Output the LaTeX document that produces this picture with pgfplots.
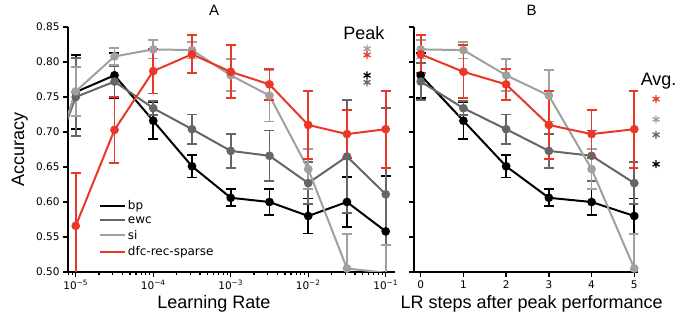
\documentclass[border=0pt]{standalone}
\usepackage{pgfplots}
\pgfplotsset{compat=1.18}
\usepackage{fontspec}
\setmainfont{DejaVu Sans}
\newfontfamily\arialfont{Liberation Sans}
\definecolor{cbp}{RGB}{0,0,0}
\definecolor{cewc}{RGB}{102,102,102}
\definecolor{csi}{RGB}{160,160,160}
\definecolor{cdfc}{RGB}{234,55,40}
\pgfplotsset{
  common/.style={
    scale only axis, height=245pt,
    ymin=0.5, ymax=0.85,
    ytick={0.5,0.55,0.6,0.65,0.7,0.75,0.8,0.85},
    axis x line*=bottom, axis y line*=left,
    axis line style={line width=2pt},
    tick align=outside,
    major tick length=5pt, minor tick length=3pt,
    every tick/.style={black, line width=1.3pt},
    tick label style={font=\fontsize{10.5}{12}\selectfont},
    /pgf/number format/assume math mode=true,
    yticklabel style={/pgf/number format/fixed, /pgf/number format/fixed zerofill, /pgf/number format/precision=2},
    legend image code/.code={\draw[#1] (0pt,0pt) -- (25pt,0pt);},
  },
  ser/.style={color=#1, line width=2pt, mark=*, mark size=3.3pt, mark options={solid},
    error bars/y dir=both, error bars/y explicit,
    error bars/error bar style={line width=1.8pt, color=#1},
    error bars/error mark options={line width=1.8pt, mark size=5pt, rotate=90, color=#1}},
  star/.style={only marks, mark=asterisk, mark size=4pt, mark options={line width=1.3pt, color=#1}},
}
\begin{document}
\begin{tikzpicture}
\path[use as bounding box] (0pt,0pt) rectangle (697pt,320pt);
\begin{semilogxaxis}[common, at={(68pt,48pt)}, anchor=south west, width=327pt,
  xmin=7.943e-6, xmax=0.1318,
  xtick={1e-5,1e-4,1e-3,1e-2,1e-1},
  xticklabels={10\textsuperscript{−5},10\textsuperscript{−4},10\textsuperscript{−3},10\textsuperscript{−2},10\textsuperscript{−1}},
  minor xtick={8e-6,9e-6,2e-5,3e-5,4e-5,5e-5,6e-5,7e-5,8e-5,9e-5,2e-4,3e-4,4e-4,5e-4,6e-4,7e-4,8e-4,9e-4,2e-3,3e-3,4e-3,5e-3,6e-3,7e-3,8e-3,9e-3,2e-2,3e-2,4e-2,5e-2,6e-2,7e-2,8e-2,9e-2},
  title={\arialfont\fontsize{15}{18}\selectfont A},
  title style={at={(axis description cs:0.4465,1.045)}, anchor=center},
  xlabel={\arialfont\fontsize{18}{21}\selectfont Learning Rate},
  xlabel style={at={(axis description cs:0.4465,-0.131)}, anchor=center},
  ylabel={\arialfont\fontsize{18}{21}\selectfont Accuracy},
  ylabel style={at={(axis description cs:-0.147,0.5)}, anchor=center, rotate=0},
  legend style={at={(axis description cs:0.085,0.31)}, anchor=north west, draw=none, fill=none,
    font=\fontsize{12}{14}\selectfont, row sep=1.5pt, legend cell align=left},
]
\addlegendimage{cbp, line width=2pt}\addlegendentry{bp}
\addlegendimage{cewc, line width=2pt}\addlegendentry{ewc}
\addlegendimage{csi, line width=2pt}\addlegendentry{si}
\addlegendimage{cdfc, line width=2pt}\addlegendentry{dfc-rec-sparse}
\addplot[forget plot, ser=cbp] coordinates {
 (3.1623e-6,0.59) +- (0,0)
 (1e-5,0.757) +- (0,0.053)
 (3.1623e-5,0.781) +- (0,0.032)
 (1e-4,0.716) +- (0,0.026)
 (3.1623e-4,0.651) +- (0,0.016)
 (1e-3,0.606) +- (0,0.012)
 (3.1623e-3,0.600) +- (0,0.019)
 (1e-2,0.580) +- (0,0.025)
 (3.1623e-2,0.600) +- (0,0.036)
 (1e-1,0.558) +- (0,0.079)
};
\addplot[forget plot, ser=cewc] coordinates {
 (3.1623e-6,0.60) +- (0,0)
 (1e-5,0.750) +- (0,0.056)
 (3.1623e-5,0.772) +- (0,0.022)
 (1e-4,0.734) +- (0,0.010)
 (3.1623e-4,0.704) +- (0,0.021)
 (1e-3,0.673) +- (0,0.024)
 (3.1623e-3,0.666) +- (0,0.036)
 (1e-2,0.627) +- (0,0.030)
 (3.1623e-2,0.665) +- (0,0.081)
 (1e-1,0.611) +- (0,0.123)
};
\addplot[forget plot, ser=csi] coordinates {
 (3.1623e-6,0.59) +- (0,0)
 (1e-5,0.758) +- (0,0.035)
 (3.1623e-5,0.808) +- (0,0.012)
 (1e-4,0.818) +- (0,0.013)
 (3.1623e-4,0.817) +- (0,0.012)
 (1e-3,0.781) +- (0,0.023)
 (3.1623e-3,0.752) +- (0,0.037)
 (1e-2,0.647) +- (0,0.029)
 (3.1623e-2,0.505) +- (0,0.049)
 (1e-1,0.499) +- (0,0.039)
};
\addplot[forget plot, ser=cdfc] coordinates {
 (1e-5,0.566) +- (0,0.075)
 (3.1623e-5,0.703) +- (0,0.047)
 (1e-4,0.787) +- (0,0.032)
 (3.1623e-4,0.811) +- (0,0.027)
 (1e-3,0.786) +- (0,0.038)
 (3.1623e-3,0.768) +- (0,0.022)
 (1e-2,0.710) +- (0,0.049)
 (3.1623e-2,0.697) +- (0,0.034)
 (1e-1,0.704) +- (0,0.055)
};
\addplot[forget plot, star=csi] coordinates {(0.0575,0.819)};
\addplot[forget plot, star=cdfc] coordinates {(0.0575,0.810)};
\addplot[forget plot, star=cbp] coordinates {(0.0575,0.781)};
\addplot[forget plot, star=cewc] coordinates {(0.0575,0.771)};
\node[anchor=base, font=\arialfont\fontsize{18}{21}\selectfont] at (axis cs:0.0521,0.832) {Peak};
\end{semilogxaxis}

\begin{axis}[common, at={(414pt,48pt)}, anchor=south west, width=224pt,
  xmin=-0.157, xmax=5.087,
  xtick={0,1,2,3,4,5}, yticklabels={},
  title={\arialfont\fontsize{15}{18}\selectfont B},
  title style={at={(axis description cs:0.525,1.045)}, anchor=center},
  xlabel={\arialfont\fontsize{18}{21}\selectfont LR steps after peak performance},
  xlabel style={at={(axis description cs:0.525,-0.131)}, anchor=center},
]
\addplot[ser=cbp] coordinates {
 (0,0.781) +- (0,0.032) (1,0.716) +- (0,0.026) (2,0.651) +- (0,0.016)
 (3,0.606) +- (0,0.012) (4,0.600) +- (0,0.019) (5,0.580) +- (0,0.025)
};
\addplot[ser=cewc] coordinates {
 (0,0.772) +- (0,0.026) (1,0.734) +- (0,0.010) (2,0.704) +- (0,0.021)
 (3,0.673) +- (0,0.024) (4,0.666) +- (0,0.036) (5,0.627) +- (0,0.030)
};
\addplot[ser=csi] coordinates {
 (0,0.818) +- (0,0.013) (1,0.817) +- (0,0.012) (2,0.781) +- (0,0.023)
 (3,0.752) +- (0,0.037) (4,0.647) +- (0,0.029) (5,0.505) +- (0,0.049)
};
\addplot[ser=cdfc] coordinates {
 (0,0.811) +- (0,0.027) (1,0.786) +- (0,0.038) (2,0.768) +- (0,0.022)
 (3,0.710) +- (0,0.049) (4,0.697) +- (0,0.034) (5,0.704) +- (0,0.055)
};
\end{axis}

\begin{axis}[at={(414pt,48pt)}, anchor=south west, scale only axis, width=224pt, height=245pt,
  xmin=-0.157, xmax=5.087, ymin=0.5, ymax=0.85, axis lines=none, clip=false]
\addplot[star=cdfc] coordinates {(5.51,0.747)};
\addplot[star=csi] coordinates {(5.51,0.718)};
\addplot[star=cewc] coordinates {(5.51,0.696)};
\addplot[star=cbp] coordinates {(5.51,0.654)};
\node[anchor=base, font=\arialfont\fontsize{18}{21}\selectfont] at (axis cs:5.57,0.766) {Avg.};
\end{axis}
\end{tikzpicture}
\end{document}
